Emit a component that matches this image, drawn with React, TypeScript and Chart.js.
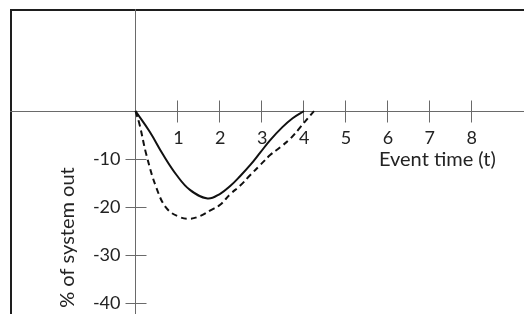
import React, { useEffect, useRef } from "react";
import { Chart, registerables } from "chart.js";

Chart.register(...registerables);

// Solid curve (event time, % of system out)
const solidTime = [0, 0.34, 0.66, 0.98, 1.3, 1.72, 2.02, 2.26, 2.5, 2.74, 2.98, 3.22, 3.5, 3.75, 4.02];
const solidValue = [0, -4.3, -9.1, -13.3, -16.4, -18.2, -17.2, -15.6, -13.5, -11.2, -8.6, -6.0, -3.4, -1.5, 0];

// Dashed curve
const dashedTime = [0, 0.1, 0.26, 0.5, 0.74, 1.04, 1.3, 1.55, 1.8, 2.02, 2.26, 2.5, 2.74, 2.98, 3.22, 3.46, 3.7, 3.94, 4.26];
const dashedValue = [0, -2.9, -9.1, -16.0, -20.2, -22.0, -22.4, -21.8, -20.6, -19.5, -17.3, -15.5, -13.3, -11.2, -9.1, -7.5, -5.7, -3.3, 0];

const xTickValues = [1, 2, 3, 4, 5, 6, 7, 8];
const xTickLabels = ["1", "2", "3", "4", "5", "6", "7", "8"];
const yTickValues = [-10, -20, -30, -40];
const yTickLabels = ["-10", "-20", "-30", "-40"];
const xAxisTitle = "Event time (t)";
const yAxisTitle = "% of system out";

const TICK_FONT = "18px Lato";
const TITLE_FONT = "20px Lato";
const TEXT = "#232323";
const AXIS = "#6a6a6a";

const axesPlugin = {
  id: "crossAxes",
  beforeDatasetsDraw(chart: any) {
    const { ctx, chartArea, scales } = chart;
    const xs = scales.x;
    const ys = scales.y;
    const x0 = Math.round(xs.getPixelForValue(0)) + 0.5;
    const y0 = Math.round(ys.getPixelForValue(0)) + 0.5;
    ctx.save();
    // frame
    ctx.strokeStyle = "#1e1e1e";
    ctx.lineWidth = 2;
    ctx.beginPath();
    ctx.moveTo(chartArea.left + 1, chartArea.bottom + 5);
    ctx.lineTo(chartArea.left + 1, chartArea.top + 1);
    ctx.lineTo(chartArea.right + 5, chartArea.top + 1);
    ctx.stroke();
    // axes
    ctx.strokeStyle = AXIS;
    ctx.lineWidth = 1;
    ctx.beginPath();
    ctx.moveTo(chartArea.left, y0);
    ctx.lineTo(chartArea.right, y0);
    ctx.moveTo(x0, chartArea.top);
    ctx.lineTo(x0, chartArea.bottom);
    ctx.stroke();
    // ticks
    ctx.beginPath();
    xTickValues.forEach((v) => {
      const px = Math.round(xs.getPixelForValue(v)) + 0.5;
      ctx.moveTo(px, y0 - 11);
      ctx.lineTo(px, y0 + 11);
    });
    yTickValues.forEach((v) => {
      const py = Math.round(ys.getPixelForValue(v)) + 0.5;
      ctx.moveTo(x0 - 10, py);
      ctx.lineTo(x0 + 11, py);
    });
    ctx.stroke();
    // tick labels
    ctx.fillStyle = TEXT;
    ctx.font = TICK_FONT;
    ctx.textAlign = "center";
    ctx.textBaseline = "middle";
    xTickValues.forEach((v, i) => {
      ctx.fillText(xTickLabels[i], xs.getPixelForValue(v) + 1, y0 + 27);
    });
    ctx.textAlign = "right";
    yTickValues.forEach((v, i) => {
      ctx.fillText(yTickLabels[i], x0 - 15, ys.getPixelForValue(v));
    });
    // titles
    ctx.font = TITLE_FONT;
    ctx.textAlign = "right";
    ctx.fillText(xAxisTitle, xs.getPixelForValue(8.6), y0 + 48);
    ctx.translate(68, ys.getPixelForValue(-26.3));
    ctx.rotate(-Math.PI / 2);
    ctx.textAlign = "center";
    ctx.fillText(yAxisTitle, 0, 0);
    ctx.restore();
  },
};

export default function App() {
  const ref = useRef<HTMLCanvasElement>(null);
  useEffect(() => {
    if (!ref.current) return;
    const chart = new Chart(ref.current, {
      type: "line",
      data: {
        datasets: [
          {
            label: "solid",
            data: solidTime.map((t, i) => ({ x: t, y: solidValue[i] })),
            borderColor: "#111111",
            borderWidth: 2,
            pointRadius: 0,
            tension: 0.4,
            fill: false,
          },
          {
            label: "dashed",
            data: dashedTime.map((t, i) => ({ x: t, y: dashedValue[i] })),
            borderColor: "#111111",
            borderWidth: 2,
            borderDash: [6, 4],
            pointRadius: 0,
            tension: 0.4,
            fill: false,
          },
        ],
      },
      options: {
        animation: false,
        responsive: false,
        layout: { padding: { left: 10, top: 9, right: 0, bottom: 0 } },
        plugins: { legend: { display: false }, tooltip: { enabled: false } },
        scales: {
          x: { type: "linear", display: false, min: -2.995, max: 9.272 },
          y: { type: "linear", display: false, min: -42.2, max: 21.21 },
        },
      },
      plugins: [axesPlugin],
    });
    return () => chart.destroy();
  }, []);
  return (
    <div style={{ position: "absolute", left: 0, top: 0, width: 524, height: 314, background: "#fff" }}>
      <canvas ref={ref} width={524} height={314} style={{ display: "block" }} />
    </div>
  );
}
